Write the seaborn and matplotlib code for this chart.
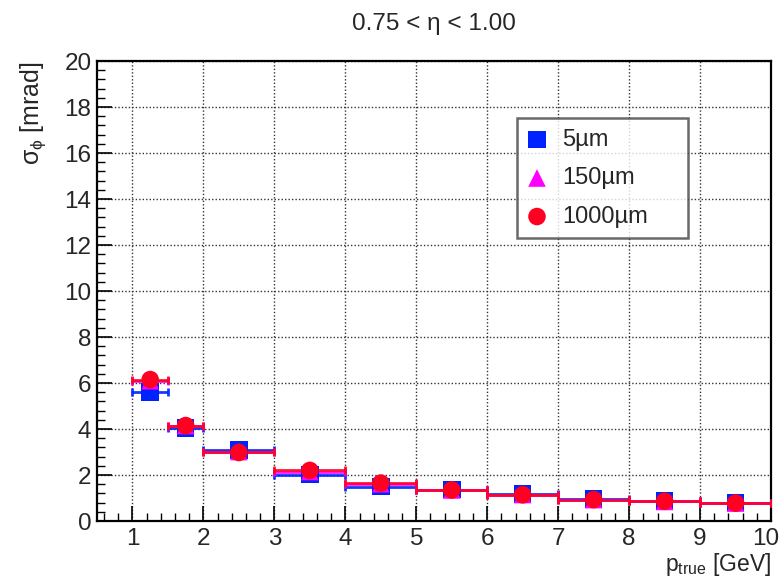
import numpy as np
import pandas as pd
import matplotlib
matplotlib.use("Agg")
import matplotlib.pyplot as plt
import matplotlib.transforms as mtransforms
import seaborn as sns
from matplotlib.ticker import MultipleLocator

# ---- data ----
p_center = [1.25, 1.75, 2.5, 3.5, 4.5, 5.5, 6.5, 7.5, 8.5, 9.5]
p_halfwidth = [0.25, 0.25, 0.5, 0.5, 0.5, 0.5, 0.5, 0.5, 0.5, 0.5]
sigma_5um = [5.6, 4.05, 3.08, 2.02, 1.5, 1.37, 1.17, 0.95, 0.87, 0.8]
sigma_150um = [6.1, 4.15, 3.02, 2.15, 1.62, 1.35, 1.15, 0.93, 0.85, 0.78]
sigma_1000um = [6.15, 4.15, 2.98, 2.2, 1.65, 1.35, 1.14, 0.93, 0.86, 0.78]
series_labels = ["5µm", "150µm", "1000µm"]
series_colors = ["#0022ff", "#ff00ff", "#ff0022"]
series_markers = ["s", "^", "o"]
x_ticks = [1, 2, 3, 4, 5, 6, 7, 8, 9, 10]
y_ticks = [0, 2, 4, 6, 8, 10, 12, 14, 16, 18, 20]

sns.set_theme(style="white")
plt.rcParams["font.family"] = ["Liberation Sans", "DejaVu Sans"]
plt.rcParams["mathtext.fontset"] = "custom"
plt.rcParams["mathtext.rm"] = "Liberation Sans"
plt.rcParams["mathtext.it"] = "Liberation Sans"
plt.rcParams["mathtext.bf"] = "Liberation Sans"

fig = plt.figure(figsize=(7.82, 5.80), dpi=100)
ax = fig.add_axes([0.124, 0.1017, 0.862, 0.7931])

frames = []
for lab, vals in zip(series_labels, [sigma_5um, sigma_150um, sigma_1000um]):
    frames.append(pd.DataFrame({"p": p_center, "hw": p_halfwidth, "sigma": vals, "series": lab}))
df = pd.concat(frames, ignore_index=True)

for lab, col, mk in zip(series_labels, series_colors, series_markers):
    d = df[df["series"] == lab]
    ax.errorbar(d["p"], d["sigma"], xerr=d["hw"], fmt="none", ecolor=col,
                elinewidth=2, capsize=3, capthick=2, alpha=0.9, zorder=3)
    sns.scatterplot(data=d, x="p", y="sigma", marker=mk, color=col, s=160,
                    edgecolor="none", ax=ax, zorder=4, label=lab)

ax.set_xlim(0.5, 10)
ax.set_ylim(0, 20)
ax.set_xticks(x_ticks)
ax.set_yticks(y_ticks)
ax.xaxis.set_minor_locator(MultipleLocator(0.2))
ax.yaxis.set_minor_locator(MultipleLocator(0.4))
ax.tick_params(axis="both", which="major", direction="in", length=11, width=1.2,
               labelsize=17.5, color="black", bottom=True, left=True)
ax.tick_params(axis="both", which="minor", direction="in", length=6, width=1.0,
               color="black", bottom=True, left=True)
ax.tick_params(axis="x", which="major", pad=5)
ax.tick_params(axis="y", which="major", pad=4)
ax.grid(True, which="major", linestyle=(0, (1, 1.5)), color="#333333", linewidth=1.0)
for s in ax.spines.values():
    s.set_color("black")
    s.set_linewidth(1.6)

# nudge the last x tick label so it stays inside the canvas
last_lab = ax.get_xticklabels()[-1]
last_lab.set_transform(last_lab.get_transform() +
                       mtransforms.ScaledTranslation(-5 / 100, 0, fig.dpi_scale_trans))

ax.set_title("0.75 < η < 1.00", fontsize=17.5, pad=22)
ax.set_xlabel(r"$\mathrm{p}_{\mathrm{true}}$ [GeV]", fontsize=16.5)
ax.xaxis.set_label_coords(1.0, -0.066)
ax.xaxis.label.set_horizontalalignment("right")
ax.xaxis.label.set_verticalalignment("top")
ax.set_ylabel(r"$\sigma_{\phi}$ [mrad]", fontsize=18)
ax.yaxis.set_label_coords(-0.095, 1.0)
ax.yaxis.label.set_horizontalalignment("right")
ax.yaxis.label.set_verticalalignment("center")

leg = ax.legend(loc="upper left", bbox_to_anchor=(0.623, 0.62, 0.254, 0.256),
                mode="expand", fontsize=17,
                frameon=True, fancybox=False, borderpad=0.45, labelspacing=0.7,
                handlelength=0.8, handletextpad=0.66, markerscale=1.0, borderaxespad=0)
leg.get_frame().set_edgecolor("#444444")
leg.get_frame().set_linewidth(1.8)

fig.savefig("out.png", dpi=100)
